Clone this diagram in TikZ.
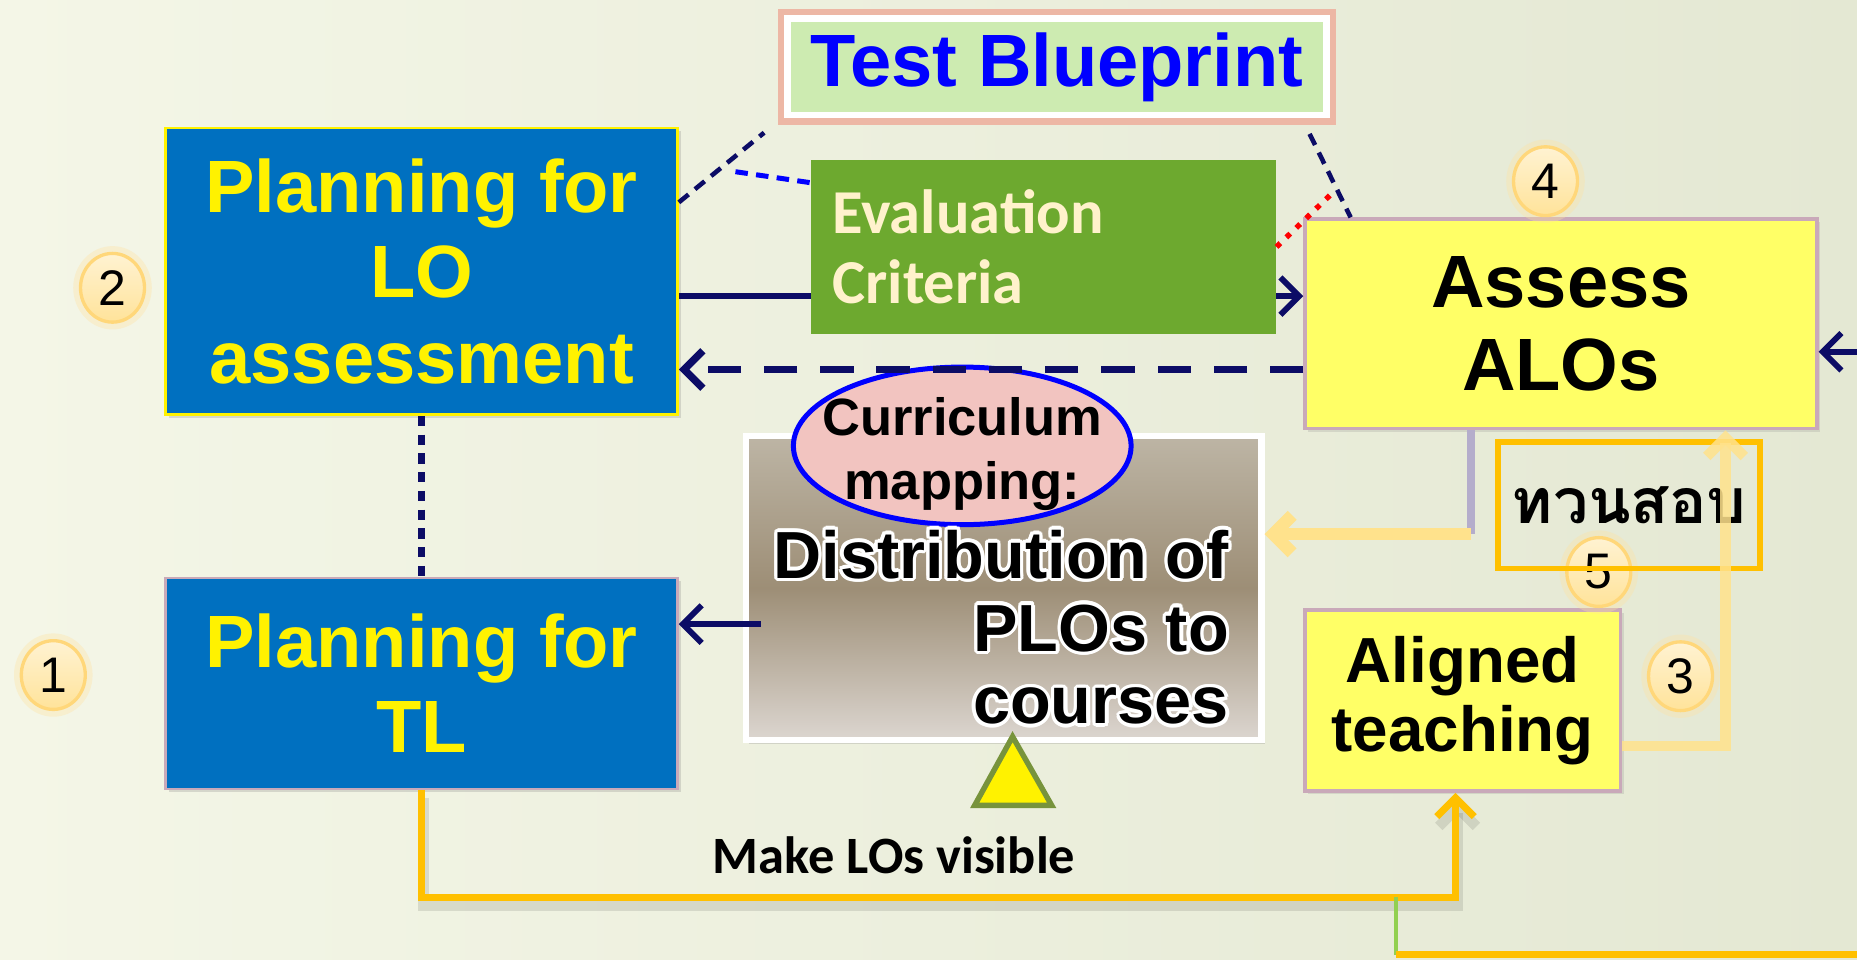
\documentclass[tikz,border=0pt]{standalone}
\usepackage{fontspec}
\setmainfont{Liberation Sans}
\newfontfamily\calibfont{Carlito}
\newfontfamily\thaifont[Script=Thai]{Loma}
\usepackage{tikz}
\usetikzlibrary{calc}
\usetikzlibrary{arrows.meta}
\usetikzlibrary{shapes.geometric}
\usetikzlibrary{shadows}
\usepackage{contour}
\contourlength{0.8pt}
\definecolor{lobblue}{HTML}{0070C0}
\definecolor{navyline}{HTML}{0C0C66}
\definecolor{evalgreen}{HTML}{6DA92F}
\definecolor{evaltext}{HTML}{FFF2CC}
\definecolor{bpgreen}{HTML}{CDEBB1}
\definecolor{bppink}{HTML}{EDB7A5}
\definecolor{boxyellow}{HTML}{FFFF66}
\definecolor{boxrim}{HTML}{C9A9B9}
\definecolor{ovalpink}{HTML}{F2C4C0}
\definecolor{linkorange}{HTML}{FFC000}
\definecolor{paleorange}{HTML}{FFE28C}
\definecolor{lavline}{HTML}{B4ADCB}
\definecolor{leafgreen}{HTML}{92D050}
\definecolor{triborder}{HTML}{77933C}
\definecolor{numfill}{HTML}{FFE39A}
\definecolor{numglow}{HTML}{FFD77A}
\definecolor{bgleft}{HTML}{F4F6E7}
\definecolor{bgright}{HTML}{E4E8D3}
\definecolor{curtop}{HTML}{BDB5A5}
\definecolor{curmid}{HTML}{9D8E76}
\definecolor{curbot}{HTML}{DCD6D0}

\begin{document}
\begin{tikzpicture}[x=0.01cm,y=-0.01cm,>={Straight Barb[length=4.5pt,width=9pt]}]
        \tikzset{bluebox/.style={fill=lobblue, draw=boxrim, line width=0.6pt, minimum width=4.32cm, align=center, text=yellow, font=\bfseries\fontsize{17.8}{20.5}\selectfont, drop shadow={opacity=0.25,shadow xshift=0.8pt,shadow yshift=-0.8pt}},
                 yellowbox/.style={fill=boxyellow, draw=boxrim, line width=0.8pt, align=center, drop shadow={opacity=0.2,shadow xshift=0.8pt,shadow yshift=-0.8pt}},
                 numcircle/.style={ellipse, minimum width=0.54cm, minimum height=0.58cm, inner sep=0pt, top color=numfill!45!white, bottom color=numfill, draw=numglow, line width=0.8pt, preaction={draw=numglow!70, line width=3.5pt, opacity=0.35}, font=\fontsize{12}{12}\selectfont},
                 navyarrow/.style={->, draw=navyline, line width=1.4pt}}
        
        \shade[left color=bgleft, right color=bgright] (0,0) rectangle (1568,810);
        \useasboundingbox (0,0) rectangle (1568,810);
        
        \coordinate (blue_start) at (621,145);
        \coordinate (red_end) at (1126,162);
        \coordinate (right_in) at (1568,297);
        \coordinate (branch) at (1179,757);
        \coordinate (branch_low) at (1179,806);
        \coordinate (right_out) at (1568,806);
        \coordinate (turn) at (1242,451);
        
        %boxes
        \node[fill=bpgreen, draw=white, line width=1.5pt, preaction={draw=bppink, line width=4.5pt}, minimum width=4.55cm, minimum height=0.77cm, text=blue, font=\bfseries\fontsize{17.8}{20}\selectfont] (blueprint) at (892.5,56.5) {Test Blueprint};
        \node[bluebox, draw=yellow, minimum height=2.42cm] (planLO) at (356,229) {Planning for\\LO\\assessment};
        \node[bluebox, minimum height=1.78cm] (planTL) at (356,577) {Planning for\\TL};
        \node[yellowbox, minimum width=4.32cm, minimum height=1.77cm, font=\bfseries\fontsize{17.8}{20}\selectfont] (assess) at (1318,273.5) {Assess\\ALOs};
        \node[yellowbox, minimum width=2.66cm, minimum height=1.53cm, font=\bfseries\fontsize{15.3}{16.5}\selectfont] (align) at (1235,591.5) {Aligned\\teaching};
        
        \draw[navyarrow] ($(planLO.east)+(0,21)$) -- ($(assess.west)+(0,-23.5)$);
        \node[fill=evalgreen, text=evaltext, font=\calibfont\bfseries\fontsize{15}{16.8}\selectfont, text width=3.56cm, inner xsep=0.18cm, minimum height=1.47cm, align=left] (eval) at (881,208.5) {Evaluation\\Criteria};
        
        %curriculum mapping
        \node[top color=curtop, bottom color=curbot, middle color=curmid, draw=white, line width=1.5pt, minimum width=4.35cm, minimum height=2.57cm, drop shadow={opacity=0.25,shadow xshift=0.8pt,shadow yshift=-0.8pt}] (curmap) at (847.5,496.5) {};
        \node[ellipse, fill=ovalpink, draw=blue, line width=1.2pt, minimum width=2.85cm, minimum height=1.33cm, inner sep=0pt, label={[align=center, yshift=-2pt, font=\bfseries\fontsize{12.6}{15.5}\selectfont]center:{Curriculum\\mapping:}}] (oval) at (812.5,376.5) {};
        \node[anchor=east, align=right, font=\bfseries\fontsize{16}{17.5}\selectfont] (distrib) at (1050,531) {\contour{white}{Distribution of}\\\contour{white}{PLOs to}\\\contour{white}{courses}};
        \draw[fill=yellow, draw=triborder, line width=1.3pt] (855,622) -- (888,680) -- (823,680) -- cycle;
        \node[font=\calibfont\bfseries\fontsize{12.6}{14}\selectfont] (visible) at (755,722) {Make LOs visible};
        
        %step numbers
        \node[numcircle] (num1) at (45,570) {1};
        \node[numcircle] (num2) at (95,243) {2};
        \node[numcircle] (num3) at (1419,571) {3};
        \node[numcircle] (num4) at (1305,153) {4};
        \node[numcircle] (num5) at (1350,483) {5};
        \node[draw=linkorange, line width=1.4pt, minimum width=2.17cm, minimum height=1.07cm, font=\thaifont\bfseries\fontsize{15}{18}\selectfont] (verify) at (1375.5,426.5) {ทวนสอบ};
        
        %links
        \draw[navyline, line width=1.1pt, dash pattern=on 3pt off 2pt] ($(planLO.north east)+(0,64)$) -- ($(blueprint.south west)+(-17,12)$);
        \draw[blue, line width=1.2pt, dash pattern=on 3pt off 2pt] (blue_start) -- ($(eval.north west)+(0,20)$);
        \draw[navyline, line width=1.1pt, dash pattern=on 3pt off 2pt] ($(blueprint.south east)+(-17,13)$) -- ($(assess.north west)+(40,0)$);
        \draw[red, line width=1.3pt, dotted] (eval.east) -- (red_end);
        \draw[navyline, line width=1.5pt, dash pattern=on 2.5pt off 2pt] (planLO.south) -- (planTL.north);
        \draw[navyarrow, line width=1.8pt, dash pattern=on 8pt off 5.5pt] ($(assess.west)+(0,38.5)$) -- ($(planLO.east)+(0,83)$);
        \draw[navyarrow] ($(curmap.west)+(15,30.5)$) -- ($(planTL.east)+(0,-50)$);
        \draw[navyarrow] (right_in) -- (assess.east |- right_in);
        
        \draw[linkorange, line width=1.7pt, ->, preaction={draw=black, opacity=0.1, line width=2.5pt, transform canvas={shift={(0.5pt,-1.8pt)}}}] (planTL.south) -- ++(0,91) -| ($(align.south)+(-6,0)$);
        \draw[leafgreen, line width=1pt] (branch) -- (branch_low);
        \draw[linkorange, line width=1.7pt] (branch_low) -- (right_out);
        \draw[paleorange, line width=2.5pt, ->, opacity=0.85] ($(align.east)+(0,38.5)$) -| ($(assess.south)+(139,0)$);
        \draw[lavline, line width=2pt] (assess.south -| turn) -- (turn);
        \draw[paleorange, line width=3pt, ->] (turn) -- (curmap.east |- turn);
        \end{tikzpicture}
\end{document}
